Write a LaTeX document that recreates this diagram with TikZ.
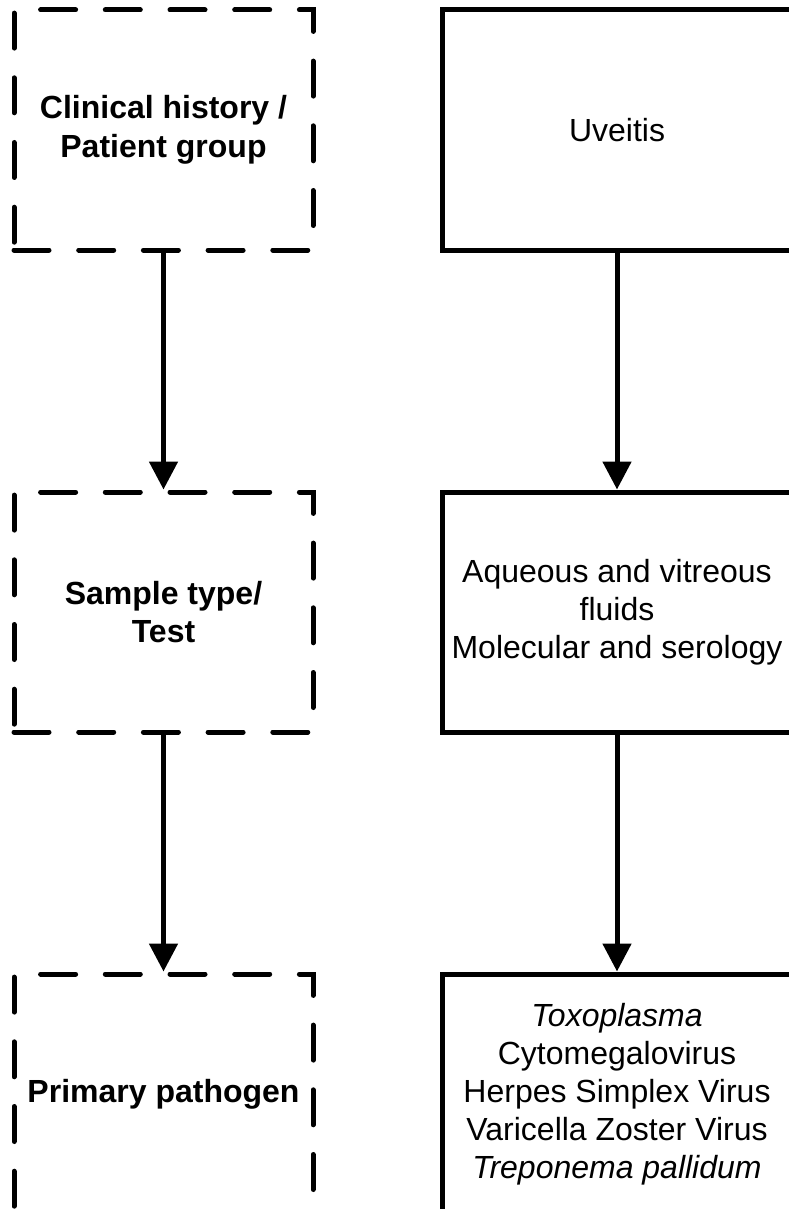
\documentclass[tikz,border=0pt]{standalone}
\usepackage{fontspec}
\setmainfont{Liberation Sans}
\usetikzlibrary{arrows.meta}
\begin{document}
\begin{tikzpicture}[x=1pt,y=-1pt,
  basebox/.style={rectangle, minimum height=240pt, inner sep=4pt, align=center,
    line width=5pt, font=\fontsize{32}{38}\selectfont},
  leftbox/.style={basebox, draw, minimum width=299pt, dash pattern=on 35pt off 29.7pt, line cap=round,
    font=\fontsize{32}{38.5}\selectfont\bfseries},
  rightbox/.style={basebox, draw, minimum width=350pt},
  flow/.style={line width=5pt, -{Triangle[width=28pt,length=28pt]}}]
\useasboundingbox (0,0) rectangle (788,1209);
\node[leftbox] (l1) at (163.5,130) {Clinical history /\\Patient group};
\node[leftbox] (l2) at (163.5,612) {Sample type/\\Test};
\node[leftbox] (l3) at (163.5,1094) {Primary pathogen};
\node[rightbox] (r1) at (617,130) {Uveitis};
\node[rightbox] (r2) at (617,612) {Aqueous and vitreous\\fluids\\Molecular and serology};
\node[rightbox] (r3) at (617,1094) {\textit{Toxoplasma}\\Cytomegalovirus\\Herpes Simplex Virus\\Varicella Zoster Virus\\\textit{Treponema pallidum}};
\draw[flow] (l1.south) -- (l2.north);
\draw[flow] (l2.south) -- (l3.north);
\draw[flow] (r1.south) -- (r2.north);
\draw[flow] (r2.south) -- (r3.north);
\end{tikzpicture}
\end{document}
